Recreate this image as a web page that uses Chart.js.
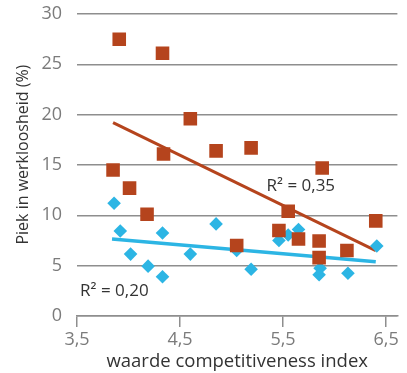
<!DOCTYPE html>
<html>
<head>
<meta charset="utf-8">
<script src="https://cdn.jsdelivr.net/npm/chart.js@4"></script>
<style>
  html, body { margin: 0; padding: 0; background: #fff; }
  canvas { display: block; }
</style>
</head>
<body>
<canvas id="chart" width="407" height="373"></canvas>
<script>
// Data
const brownX = [3.85, 3.91, 4.01, 4.18, 4.33, 4.34, 4.60, 4.85, 5.05, 5.19, 5.46, 5.55, 5.65, 5.85, 5.85, 5.88, 6.12, 6.40];
const brownY = [14.5, 27.5, 12.7, 10.1, 26.1, 16.1, 19.6, 16.4, 7.0, 16.7, 8.5, 10.4, 7.65, 7.45, 5.8, 14.7, 6.5, 9.45];

const blueX = [3.86, 3.92, 4.02, 4.19, 4.33, 4.33, 4.60, 4.85, 5.05, 5.19, 5.46, 5.55, 5.65, 5.86, 5.85, 6.13, 6.41];
const blueY = [11.2, 8.45, 6.15, 4.95, 8.25, 3.9, 6.15, 9.15, 6.5, 4.65, 7.5, 8.05, 8.6, 4.75, 4.1, 4.25, 6.95];

// Trendline end points
const brownTrendX = [3.85, 6.40];
const brownTrendY = [19.2, 6.5];
const blueTrendX = [3.84, 6.40];
const blueTrendY = [7.65, 5.4];

const xTicks = [3.5, 4.5, 5.5, 6.5];
const yTicks = [0, 5, 10, 15, 20, 25, 30];

const labels = [
  { text: 'R² = 0,35', x: 5.34, y: 12.9 },
  { text: 'R² = 0,20', x: 3.53, y: 2.5 }
];

const BROWN = '#b5441d';
const BLUE = '#2cb5e4';
const GRID = '#8e8e8e';

function toPoints(xs, ys) {
  return xs.map((x, i) => ({ x: x, y: ys[i] }));
}

// R² text labels
const r2Labels = {
  id: 'r2Labels',
  afterDatasetsDraw(chart) {
    const { ctx, scales } = chart;
    ctx.save();
    ctx.font = '17px "Open Sans"';
    ctx.fillStyle = '#333333';
    ctx.textAlign = 'left';
    ctx.textBaseline = 'middle';
    labels.forEach(l => {
      ctx.fillText(l.text, scales.x.getPixelForValue(l.x), scales.y.getPixelForValue(l.y));
    });
    ctx.restore();
  }
};

const ctx = document.getElementById('chart').getContext('2d');
new Chart(ctx, {
  type: 'scatter',
  data: {
    datasets: [
      {
        label: 'brown',
        data: toPoints(brownX, brownY),
        pointStyle: 'rect',
        pointRadius: 9.6,
        backgroundColor: BROWN,
        borderColor: BROWN,
        borderWidth: 0,
        order: 0
      },
      {
        label: 'blue',
        data: toPoints(blueX, blueY),
        pointStyle: 'rectRot',
        pointRadius: 6.8,
        backgroundColor: BLUE,
        borderColor: BLUE,
        borderWidth: 0,
        order: 1
      },
      {
        label: 'brown trend',
        data: toPoints(brownTrendX, brownTrendY),
        showLine: true,
        pointRadius: 0,
        borderColor: BROWN,
        borderWidth: 3,
        order: 2
      },
      {
        label: 'blue trend',
        data: toPoints(blueTrendX, blueTrendY),
        showLine: true,
        pointRadius: 0,
        borderColor: BLUE,
        borderWidth: 3.5,
        order: 3
      }
    ]
  },
  options: {
    responsive: false,
    animation: false,
    events: [],
    layout: { padding: { left: 0, right: 7, top: 14, bottom: 0 } },
    plugins: {
      legend: { display: false },
      tooltip: { enabled: false }
    },
    scales: {
      x: {
        type: 'linear',
        min: 3.5,
        max: 6.61,
        afterBuildTicks: s => { s.ticks = xTicks.map(v => ({ value: v })); },
        afterFit: s => { s.height = 57; },
        grid: {
          drawOnChartArea: false,
          drawTicks: true,
          tickLength: 11,
          color: GRID,
          lineWidth: 1.5
        },
        border: { display: true, color: GRID, width: 1.5 },
        ticks: {
          color: '#7b7b7b',
          font: { family: 'Open Sans', size: 18 },
          padding: 2,
          maxRotation: 0,
          callback: v => String(v).replace('.', ',')
        },
        title: {
          display: true,
          text: 'waarde competitiveness index',
          color: '#333333',
          font: { family: 'Open Sans', size: 18.5 },
          padding: { top: 0, bottom: 0 }
        }
      },
      y: {
        min: 0,
        max: 30,
        afterBuildTicks: s => { s.ticks = yTicks.map(v => ({ value: v })); },
        afterFit: s => {
          s.width = 77;
          s.paddingTop = 0;
          s.paddingBottom = 0;
        },
        grid: {
          drawTicks: false,
          color: GRID,
          lineWidth: 1.5
        },
        border: { display: false },
        ticks: {
          color: '#7b7b7b',
          font: { family: 'Open Sans', size: 18 },
          padding: 15
        },
        title: {
          display: true,
          text: '     Piek in werkloosheid (%)',
          color: '#333333',
          font: { family: 'Open Sans', size: 16 },
          padding: { top: 14, bottom: 0 }
        }
      }
    }
  },
  plugins: [r2Labels]
});
</script>
</body>
</html>
